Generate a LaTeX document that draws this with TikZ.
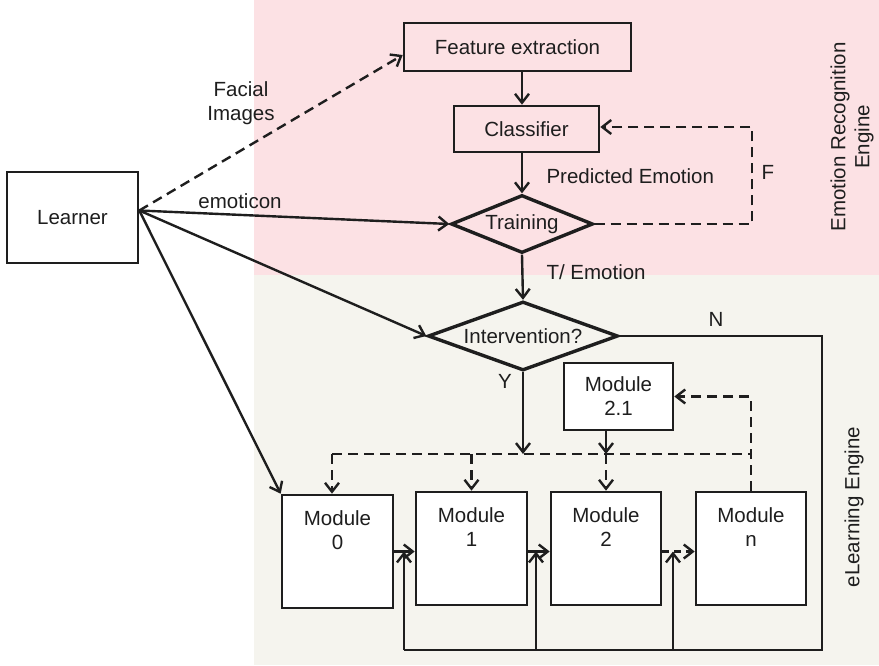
\documentclass[tikz,border=0pt]{standalone}
\usepackage{fontspec}
\setmainfont{Liberation Sans}
\usetikzlibrary{shapes.geometric,arrows.meta}
\definecolor{pinkbg}{RGB}{252,225,228}
\definecolor{beigebg}{RGB}{245,244,238}
\definecolor{ink}{RGB}{30,30,30}
\begin{document}
\begin{tikzpicture}[x=1pt,y=-1pt,color=ink,
 font=\fontsize{20.5}{24}\selectfont,
 box/.style={draw=ink,line width=2.6pt,inner sep=0pt},
 dia/.style={draw=ink,line width=3.4pt,shape=diamond,inner sep=0pt},
 arr/.style={draw=ink,line width=2.4pt,-{Straight Barb[length=9pt,width=14pt,line width=2.4pt]}},
 dsh/.style={dash pattern=on 10pt off 6pt},
 plain/.style={draw=ink,line width=2.4pt}]
\useasboundingbox (0,0) rectangle (879,665);
\fill[white] (0,0) rectangle (879,665);
\fill[pinkbg] (254,0) rectangle (879,275);
\fill[beigebg] (254,275) rectangle (879,665);

% nodes
\node[box,fill=white,minimum width=131pt,minimum height=91pt] (learner) at (72.5,217.5) {Learner};
\node[box,minimum width=227pt,minimum height=48pt] (feat) at (517.5,47) {Feature extraction};
\node[box,minimum width=145pt,minimum height=46pt] (clf) at (526.5,129) {Classifier};
\node[dia,minimum width=142pt,minimum height=58pt,aspect=2.45] (train) at (522,224) {Training};
\node[dia,minimum width=190pt,minimum height=69pt,aspect=2.75] (interv) at (523,336) {Intervention?};

\node[box,fill=white,minimum width=111pt,minimum height=113pt] (m0) at (337.5,551.5) {};
\node[box,fill=white,minimum width=111pt,minimum height=113pt] (m1) at (471.5,548.5) {};
\node[box,fill=white,minimum width=110pt,minimum height=113pt] (m2) at (606,548.5) {};
\node[box,fill=white,minimum width=110pt,minimum height=113pt] (mn) at (751,548.5) {};
\node[align=center] (t0) at (337.5,530) {Module\\0};
\node[align=center] (t1) at (471.5,527) {Module\\1};
\node[align=center] (t2) at (606,527) {Module\\2};
\node[align=center] (tn) at (751,527) {Module\\n};
\node[box,fill=white,minimum width=109pt,minimum height=67pt,align=center] (m21) at (618.5,396.5) {Module\\2.1};

% labels
\node[align=center] (fi) at (241,103) {Facial\\Images};
\node (emo) at (240,201) {emoticon};
\node[anchor=west] (pe) at (543,176) {Predicted Emotion};
\node[anchor=west] (te) at (543,272) {T/ Emotion};
\node (f) at (768,172) {F};
\node (n) at (716,319) {N};
\node (y) at (505,381) {Y};
\node[rotate=90,align=center] (ere) at (852,137) {Emotion Recognition\\Engine};
\node[rotate=90] (ele) at (854,507) {eLearning Engine};

% recognition engine
\draw[arr] (feat.south -| train.north) -- (clf.north -| train.north);
\draw[arr] (clf.south -| train.north) -- (train.north);
\draw[arr] (train.south) -- (interv.north);
\coordinate (fr) at (752,127);
\draw[arr,dsh] (train.east) -| (fr) -- (fr -| clf.east);

% learner
\coordinate (lp) at ([yshift=7pt]learner.east);
\draw[arr,dsh] (lp) -- ([yshift=-8pt]feat.west);
\draw[arr] (lp) -- (train.west);
\draw[arr] (lp) -- (interv.west);
\draw[arr] (lp) -- (m0.north west);

% N path
\coordinate (nr) at (822,650);
\coordinate (b1) at (404,650);
\coordinate (b2) at (536,650);
\coordinate (b3) at (673,650);
\draw[plain] (interv.east) -| (nr) -- (b1);
\draw[arr] (b1) -- (b1 |- m0.east);
\draw[arr] (b2) -- (b2 |- m0.east);
\draw[arr] (b3) -- (b3 |- m0.east);

% module chain
\draw[arr] (m0.east) -- (m0.east -| m1.west);
\draw[arr] (m0.east -| m1.east) -- (m0.east -| m2.west);
\draw[arr,dsh,dash pattern=on 7pt off 5pt] (m0.east -| m2.east) -- (m0.east -| mn.west);

% distribution line
\coordinate (dl) at (332,454);
\coordinate (dr) at (752,454);
\draw[plain,dsh] (dl) -- (dr);
\draw[arr,dsh] (dl) -- (dl |- m0.north);
\draw[arr,dsh] (m1.north |- dl) -- (m1.north);
\draw[arr,dsh] (m2.north |- dl) -- (m2.north);
\draw[arr] (m21.south -| m2.north) -- (m2.north |- dl);
\draw[arr] (interv.south) -- (interv.south |- dl);
\draw[arr,dsh] (mn.north) -- (mn.north |- m21.east) -- (m21.east);
\end{tikzpicture}
\end{document}
